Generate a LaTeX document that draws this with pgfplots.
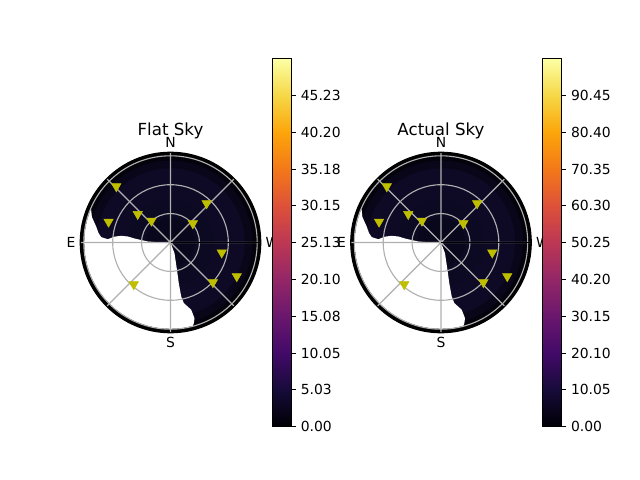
\documentclass[border=0pt]{standalone}
\usepackage{pgfplots}
\pgfplotsset{compat=1.18}
\usepackage{pgfplotstable}
\usepgfplotslibrary{polar}
\usepackage{fontspec}
\setmainfont{DejaVu Sans}
\definecolor{gridgray}{HTML}{B0B0B0}
\definecolor{marky}{rgb}{0.75,0.75,0}
\definecolor{sk0}{RGB}{4,3,12}
\definecolor{sk1}{RGB}{9,6,25}
\definecolor{sk2}{RGB}{14,10,38}
\definecolor{sk3}{RGB}{12,9,34}
\definecolor{sk4}{RGB}{9,7,28}
\pgfplotsset{colormap={inferno}{rgb255=(0,0,4) rgb255=(22,11,57) rgb255=(66,10,104) rgb255=(106,23,110) rgb255=(147,38,103) rgb255=(188,55,84) rgb255=(221,81,58) rgb255=(243,120,25) rgb255=(252,165,10) rgb255=(246,215,70) rgb255=(252,255,164)}}

\pgfplotstableread{
t R r a b c d
0 93.7 89.6 85 77 45 25
5 93.7 89.6 85 77 45 25
10 93.7 89.6 85 77 45 25
15 93.7 89.6 85 77 45 25
20 93.7 89.6 85 77 45 25
25 93.7 89.6 85 77 45 25
30 93.7 89.6 85 77 45 25
35 93.7 89.6 85 77 45 25
40 93.7 89.6 85 77 45 25
45 93.7 89.6 85 77 45 25
50 93.7 89.6 85 77 45 25
55 93.7 89.6 85 77 45 25
60 93.7 89.6 85 77 45 25
65 93.7 89.6 85 77 45 25
70 93.7 89.6 85 77 45 25
75 93.7 89.6 85 77 45 25
80 93.7 89.6 85 77 45 25
85 93.7 89.6 85 77 45 25
90 93.7 89.6 85 77 45 25
95 93.7 89.6 85 77 45 25
100 93.7 89.6 85 77 45 25
105 93.7 89.6 85 77 45 25
110 93.7 89.6 85 77 45 25
115 93.7 89.6 85 77 45 25
120 93.7 89.6 85 77 45 25
125 93.7 89.6 85 77 45 25
130 93.7 89.6 85 77 45 25
135 93.7 89.6 85 77 45 25
140 93.7 89.6 85 77 45 25
145 93.7 89.6 85 77 45 25
150 93.7 89.6 85 77 45 25
155 93.7 89.6 85 77 45 25
160 93.7 89.6 85 77 45 25
165 93.7 89.6 85 77 45 25
170 93.7 89.6 85 77 45 25
175 93.7 89.6 85 77 45 25
180 93.7 89.6 85 77 45 25
185 93.7 89.6 85 77 45 25
190 93.7 89.6 85 77 45 25
195 93.7 89.6 85 77 45 25
200 93.7 89.6 85 77 45 25
205 93.7 89.6 85 77 45 25
210 93.7 89.6 85 77 45 25
215 93.7 89.6 85 77 45 25
220 93.7 89.6 85 77 45 25
225 93.7 89.6 85 77 45 25
230 93.7 89.6 85 77 45 25
235 93.7 89.6 85 77 45 25
240 93.7 89.6 85 77 45 25
245 93.7 89.6 85 77 45 25
250 93.7 89.6 85 77 45 25
255 93.7 89.6 85 77 45 25
260 93.7 89.6 85 77 45 25
265 93.7 89.6 85 77 45 25
270 93.7 89.6 85 77 45 25
275 93.7 89.6 85 77 45 25
280 93.7 89.6 85 77 45 25
285 93.7 89.6 85 77 45 25
290 93.7 89.6 85 77 45 25
295 93.7 89.6 85 77 45 25
300 93.7 89.6 85 77 45 25
305 93.7 89.6 85 77 45 25
310 93.7 89.6 85 77 45 25
315 93.7 89.6 85 77 45 25
320 93.7 89.6 85 77 45 25
325 93.7 89.6 85 77 45 25
330 93.7 89.6 85 77 45 25
335 93.7 89.6 85 77 45 25
340 93.7 89.6 85 77 45 25
345 93.7 89.6 85 77 45 25
350 93.7 89.6 85 77 45 25
355 93.7 89.6 85 77 45 25
360 93.7 89.6 85 77 45 25
}\disktab

\pgfplotstableread{
t r
157 89.6
162 85.8
168 78.8
172.6 75.3
175.6 72.1
177 65.1
174 58.4
172.3 51.7
172 44.7
173.7 37.6
177.5 23.5
180 10
0 0
290.5 11.8
283 30.9
281.5 43.0
281.2 57.1
282.4 64.4
287.1 73.0
287.6 82.4
286.2 87.0
285 89.6
280 89.6
275 89.6
270 89.6
265 89.6
260 89.6
255 89.6
250 89.6
245 89.6
240 89.6
235 89.6
230 89.6
225 89.6
220 89.6
215 89.6
210 89.6
205 89.6
200 89.6
195 89.6
190 89.6
185 89.6
180 89.6
175 89.6
170 89.6
165 89.6
160 89.6
}\whitetab

\pgfplotstableread{
t r
134.0 81.0
161.5 67.8
139.1 45.0
131.2 30.0
47.3 55.3
40.4 30.5
348.9 54.2
333.0 77.2
316.8 60.4
228.7 57.8
}\marktab

\newcommand{\skyplot}[2]{%
\begin{polaraxis}[at={(#1,171pt)}, anchor=center,
  width=130pt, height=130pt, scale only axis,
  ymin=0, ymax=93.7,
  xtick={0,45,...,315}, xticklabels={W,,N,,E,,S,},
  ytick={30,60,90}, yticklabels={},
  grid=major, major grid style={gridgray, line width=0.8pt},
  major tick length=0pt,
  axis line style={black, line width=0.8pt},
  axis on top, clip=false,
  title={#2},
  title style={at={(0.5,1)}, anchor=base, yshift=-2pt, font=\fontsize{12}{14}\selectfont},
  tick label style={font=\fontsize{10}{12}\selectfont}]
\addplot[fill=black, draw=none] table[x=t,y=R] {\disktab};
\addplot[fill=sk0, draw=none] table[x=t,y=r] {\disktab};
\addplot[fill=sk1, draw=none] table[x=t,y=a] {\disktab};
\addplot[fill=sk2, draw=none] table[x=t,y=b] {\disktab};
\addplot[fill=sk3, draw=none] table[x=t,y=c] {\disktab};
\addplot[fill=sk4, draw=none] table[x=t,y=d] {\disktab};
\addplot[fill=white, draw=none] table[x=t,y=r] {\whitetab};
\addplot[only marks, mark=triangle*, mark size=3.9pt, color=marky, mark options={rotate=180}] table[x=t,y=r] {\marktab};
\end{polaraxis}}

\newcommand{\cbar}[4]{%
\begin{axis}[at={(#1,38.4pt)}, anchor=south west,
  width=13.3pt, height=264.9pt, scale only axis,
  xmin=0, xmax=1, ymin=0, ymax=#2, enlargelimits=false,
  xtick=\empty, ytick={#3}, yticklabels={#4},
  ytick pos=right, yticklabel pos=right, tick align=outside,
  major tick length=3.5pt, tick style={black, line width=0.8pt},
  axis line style={black, line width=0.8pt},
  colormap name=inferno, point meta min=0, point meta max=#2,
  tick label style={font=\fontsize{10}{12}\selectfont}, axis on top]
\addplot[surf, shader=interp, mesh/rows=2, point meta=y] coordinates {
(0,0) (1,0)

(0,#2) (1,#2)
};
\end{axis}}

\begin{document}
\begin{tikzpicture}
\useasboundingbox (0,0) rectangle (460.8pt,345.6pt);
\skyplot{122.76pt}{Flat Sky}
\skyplot{317.52pt}{Actual Sky}
\cbar{196.3pt}{50.25}{0,5.025,10.05,15.075,20.1,25.125,30.15,35.175,40.2,45.225}{0.00,5.03,10.05,15.08,20.10,25.13,30.15,35.18,40.20,45.23}
\cbar{390.8pt}{100.5}{0,10.05,20.1,30.15,40.2,50.25,60.3,70.35,80.4,90.45}{0.00,10.05,20.10,30.15,40.20,50.25,60.30,70.35,80.40,90.45}
\end{tikzpicture}
\end{document}
